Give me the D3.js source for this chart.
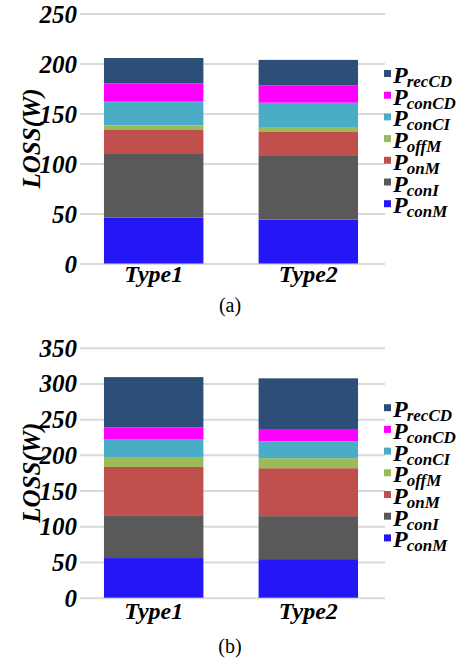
<!DOCTYPE html>
<html lang="en">
<head>
<meta charset="utf-8">
<title>Loss breakdown</title>
<script src="https://cdnjs.cloudflare.com/ajax/libs/d3/7.8.5/d3.min.js"></script>
<style>
  body { margin: 0; background: #fff; }
</style>
</head>
<body>
<div id="chart"></div>
<script>

// data
const categories = ["Type1", "Type2"];
const seriesKeys = ["conM", "conI", "onM", "offM", "conCI", "conCD", "recCD"];
const seriesColors = ["#2416F5", "#595959", "#C0504D", "#9BBB59", "#4BACC6", "#FF00FF", "#2D4E76"];

// panel (a)
const lossA_conM  = [46, 44];
const lossA_conI  = [63.5, 63.5];
const lossA_onM   = [24, 24];
const lossA_offM  = [4.7, 5];
const lossA_conCI = [24.3, 24.3];
const lossA_conCD = [17.7, 17.5];
const lossA_recCD = [25.3, 25.3];
const ticksA = [0, 50, 100, 150, 200, 250];

// panel (b)
const lossB_conM  = [55.5, 54];
const lossB_conI  = [60, 60.2];
const lossB_onM   = [67.5, 67.1];
const lossB_offM  = [14, 14];
const lossB_conCI = [24.3, 23.7];
const lossB_conCD = [17.2, 17.2];
const lossB_recCD = [70.3, 70.9];
const ticksB = [0, 50, 100, 150, 200, 250, 300, 350];

const FONT = "'Liberation Serif', 'Times New Roman', serif";

const W = 466, H = 664;
const svg = d3.select("#chart").append("svg")
  .attr("width", W).attr("height", H)
  .style("font-family", FONT);

function buildRows(cols) {
  return categories.map((c, i) => {
    const row = { cat: c };
    seriesKeys.forEach((k, j) => row[k] = cols[j][i]);
    return row;
  });
}

function drawPanel(top, rows, ticks, caption, typeDy, capDy) {
  const g = svg.append("g").attr("transform", `translate(0,${top})`);
  const plotH = 250;

  const y = d3.scaleLinear()
    .domain([0, d3.max(ticks)])
    .range([plotH, 0]);

  const x = d3.scaleBand()
    .domain(categories)
    .range([80, 382])
    .paddingInner(0.357)
    .paddingOuter(0.155);

  // y axis with gridlines
  const yAxis = d3.axisLeft(y)
    .tickValues(ticks)
    .tickSizeInner(-305)
    .tickSizeOuter(0)
    .tickPadding(3);

  const ax = g.append("g")
    .attr("transform", "translate(80,0)")
    .call(yAxis)
    .attr("font-family", FONT);
  ax.select(".domain").remove();
  ax.selectAll(".tick line")
    .attr("stroke", "#D9D9D9")
    .attr("stroke-width", 2);
  ax.selectAll(".tick text")
    .attr("fill", "#000")
    .attr("dy", "0.34em")
    .style("font-family", FONT)
    .style("font-size", "25px")
    .style("font-weight", "bold")
    .style("font-style", "italic");

  // stacked bars
  const stack = d3.stack().keys(seriesKeys)(rows);
  g.append("g").selectAll("g")
    .data(stack)
    .join("g")
      .attr("fill", (d, i) => seriesColors[i])
    .selectAll("rect")
    .data(d => d)
    .join("rect")
      .attr("x", d => x(d.data.cat))
      .attr("y", d => y(d[1]))
      .attr("width", x.bandwidth())
      .attr("height", d => y(d[0]) - y(d[1]));

  // category labels
  g.append("g").selectAll("text")
    .data(categories)
    .join("text")
      .attr("x", d => x(d) + x.bandwidth() / 2)
      .attr("y", plotH + typeDy)
      .attr("text-anchor", "middle")
      .style("font-family", FONT)
      .style("font-size", "24px")
      .style("font-weight", "bold")
      .style("font-style", "italic")
      .text(d => d);

  // y label
  g.append("text")
    .attr("transform", `translate(40,${plotH - 125}) rotate(-90)`)
    .attr("text-anchor", "middle")
    .style("font-family", FONT)
    .style("font-size", "25px")
    .style("font-weight", "bold")
    .style("font-style", "italic")
    .text("LOSS(W)");

  // legend
  const legendKeys = seriesKeys.slice().reverse();
  const leg = g.append("g").selectAll("g")
    .data(legendKeys)
    .join("g")
      .attr("transform", (d, i) => `translate(384,${plotH - 190 + i * 21.7})`);
  leg.append("rect")
    .attr("x", 0).attr("y", -3.5)
    .attr("width", 7).attr("height", 7)
    .attr("fill", d => seriesColors[seriesKeys.indexOf(d)]);
  const lt = leg.append("text")
    .attr("x", 9).attr("y", 9.5)
    .style("font-family", FONT)
    .style("font-weight", "bold")
    .style("font-style", "italic");
  lt.append("tspan").style("font-size", "24px").text("P");
  lt.append("tspan").attr("dx", -1).attr("dy", 4)
    .style("font-size", "17px").text(d => d);

  // caption
  g.append("text")
    .attr("x", 230).attr("y", plotH + capDy)
    .attr("text-anchor", "middle")
    .style("font-family", FONT)
    .style("font-size", "20px")
    .text(caption);
}

drawPanel(13.5,
  buildRows([lossA_conM, lossA_conI, lossA_onM, lossA_offM, lossA_conCI, lossA_conCD, lossA_recCD]),
  ticksA, "(a)", 18.5, 48);
drawPanel(347.7,
  buildRows([lossB_conM, lossB_conI, lossB_onM, lossB_offM, lossB_conCI, lossB_conCD, lossB_recCD]),
  ticksB, "(b)", 21, 55);

</script>
</body>
</html>
